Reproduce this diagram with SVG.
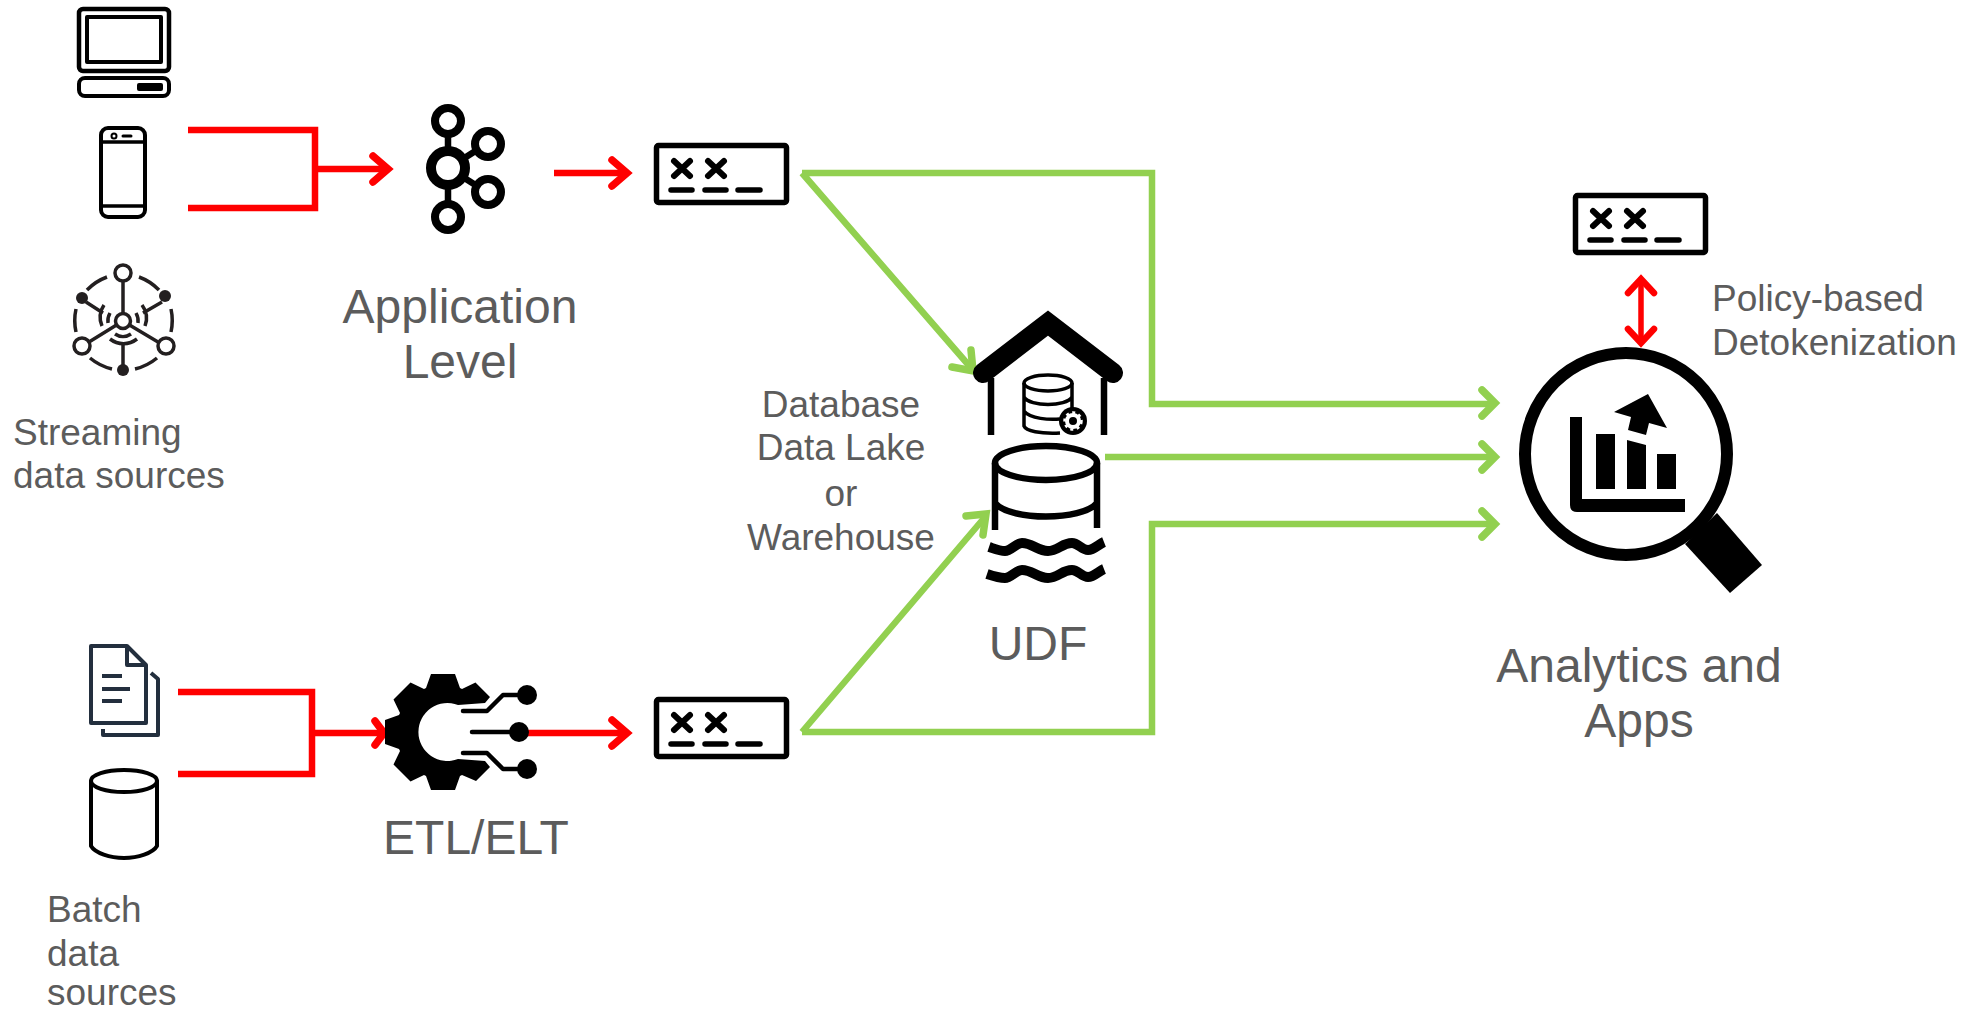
<svg xmlns="http://www.w3.org/2000/svg" xmlns:xlink="http://www.w3.org/1999/xlink" width="1969" height="1013" viewBox="0 0 1969 1013">
<style>
text{font-family:"Liberation Sans",Arial,sans-serif;fill:#5c5c5c}
.lg{font-size:48px}
.sm{font-size:37px}
.mid{text-anchor:middle}
.k{fill:none;stroke:#000;stroke-linejoin:round;stroke-linecap:round}
.s{fill:none;stroke:#231f20;stroke-width:3.5}
.r{fill:none;stroke:#f00;stroke-width:6.5}
.g{fill:none;stroke:#92d050;stroke-width:6.5}
.ah{fill:none;stroke-linecap:round;stroke-linejoin:miter;stroke-width:7.500}
</style>
<defs>
<g id="token">
<rect x="2.500" y="2.500" width="130" height="57" rx="2" fill="#fff" stroke="#000" stroke-width="5.500"/>
<path d="M20 18L36 33M36 18L20 33M54 18L70 33M70 18L54 33" fill="none" stroke="#000" stroke-width="6" stroke-linecap="round"/>
<path d="M17 47H38M51 47H72M84 47H106" fill="none" stroke="#000" stroke-width="5.500" stroke-linecap="round"/>
</g>
</defs>
<rect width="1969" height="1013" fill="#fff"/>

<g id="connectors">
<path class="r" d="M188 130H315V208H188M315 169H386"/>
<path class="r ah" d="M373 156L388 169L373 182"/>
<path class="r" d="M554 173H625"/>
<path class="r ah" d="M612 160L627 173L612 186"/>
<path class="r" d="M178 692H312V774H178M312 733H380"/>
<path class="r ah" d="M375 721L384 733L375 745"/>
<path class="r" d="M519 733H625"/>
<path class="r ah" d="M612 720L627 733L612 746"/>
<path class="r" style="stroke-width:5.500" d="M1641 280V342"/>
<path class="r ah" style="stroke-width:6.500" d="M1628 293L1641 279L1654 293M1628 329L1641 343L1654 329"/>
<path class="g" d="M802 173H1152V404H1492M802 173L972 369"/>
<path class="g" d="M1105 457H1492"/>
<path class="g" d="M802 732H1152V524H1492M802 732L985 517"/>
<path class="g ah" d="M1482 390L1495 403L1482 416M1482 444L1495 457L1482 470M1482 511L1495 524L1482 537"/>
<path class="g ah" d="M971 350L973 371L952 367M966 516L986 514L983 535"/>
</g>

<g id="laptop">
<rect x="79" y="9" width="90" height="62" rx="4" class="k" stroke-width="4.500"/>
<rect x="87" y="17" width="74" height="45" class="k" stroke-width="4"/>
<rect x="79" y="78" width="90" height="18" rx="6" class="k" stroke-width="4"/>
<rect x="137" y="83" width="26" height="8" rx="2" fill="#000"/>
</g>

<g id="phone">
<rect x="101" y="128" width="44" height="89" rx="7" class="k" stroke-width="4"/>
<path class="k" stroke-width="3.500" d="M101 142H145M101 206H145"/>
<circle cx="114" cy="136" r="2.500" class="k" stroke-width="2"/>
<path class="k" stroke-width="3" d="M123 136H131"/>
</g>

<g id="streaming">
<g class="s">
<circle cx="123" cy="273" r="8"/><circle cx="123" cy="321" r="7.500"/>
<circle cx="82" cy="346" r="8"/><circle cx="166" cy="346" r="8"/>
<path d="M123 281V314M116.500 325L89 342M129.500 325L158 342M123 345V366M103 313L86 302M143 313L162 302"/>
<path d="M107 277A54 54 0 0 0 87 290M139 277A54 54 0 0 1 159 290M76 309A54 54 0 0 0 76 332M171 309A54 54 0 0 1 171 332M90 358A54 54 0 0 0 112 369M157 358A54 54 0 0 1 135 369"/>
<path d="M102 326A22 22 0 0 1 104 305M145 326A22 22 0 0 0 142 305M108 323A16 16 0 0 1 110 313M138 323A16 16 0 0 0 136 313M110 339A22 22 0 0 0 137 339M115 334A14 14 0 0 0 131 334"/>
</g>
<circle cx="82" cy="298" r="6" fill="#231f20"/><circle cx="165" cy="296" r="6" fill="#231f20"/><circle cx="123" cy="370" r="6" fill="#231f20"/>
</g>

<g id="documents">
<path d="M91 646H127L146 665V723H91Z M127 646V665H146" fill="none" stroke="#232f3e" stroke-width="4" stroke-linejoin="round"/>
<path d="M151 673L158 679V735H103V729M102 676H122M102 689H130M102 701H122" fill="none" stroke="#232f3e" stroke-width="4" stroke-linejoin="round"/>
</g>

<g id="batch-db">
<ellipse cx="124" cy="781" rx="33" ry="11" class="k" stroke-width="4"/>
<path class="k" stroke-width="4" d="M91 781V846C95 853 110 858 124 858C138 858 153 853 157 846V781"/>
</g>

<g id="kafka">
<circle cx="448" cy="121" r="13" class="k" stroke-width="8"/>
<circle cx="448" cy="217" r="13" class="k" stroke-width="8"/>
<circle cx="448" cy="168" r="17" class="k" stroke-width="10"/>
<circle cx="488" cy="144" r="13" class="k" stroke-width="8"/>
<circle cx="488" cy="192" r="13" class="k" stroke-width="8"/>
<path class="k" stroke-width="6.500" d="M448 134V148M448 188V204M466 157L477 150M466 179L477 186"/>
</g>

<g id="etl">
<path fill="#000" d="M431 674H455L460 688L462 689L475.500 682.500L490 697L485 703L458 705A29 29 0 1 0 458 759L485 761L490 767L476 781L462 775L460 776L455 790H431L426 776L424 775L410.500 781.500L393.500 764.500L400 751L399 749L385 744V720L399 715L400 713L393.500 699.500L410.500 682.500L424 689L426 688Z"/>
<path class="k" stroke-width="4.500" d="M463 711H487L503 695H527M472 732H519M463 753H487L503 769H527"/>
<circle cx="527" cy="695" r="10" fill="#000"/><circle cx="519" cy="732" r="10" fill="#000"/><circle cx="527" cy="769" r="10" fill="#000"/>
</g>

<g id="token-1"><use xlink:href="#token" x="654" y="143"/></g>
<g id="token-2"><use xlink:href="#token" x="654" y="697"/></g>
<g id="token-3"><use xlink:href="#token" x="1573" y="193"/></g>

<g id="lakehouse">
<path fill="none" stroke="#000" stroke-width="20" stroke-linecap="round" stroke-linejoin="miter" d="M983 373L1048 323L1113 373"/>
<path fill="none" stroke="#000" stroke-width="6.500" d="M991 378V435M1104 378V435"/>
<g fill="none" stroke="#000" stroke-width="3.500">
<ellipse cx="1048" cy="383" rx="24" ry="8"/>
<path d="M1024 383V426C1026 431 1040 434 1060 433M1072 383V410M1024 397C1030 407 1066 407 1072 397M1024 411C1030 419 1050 420 1060 419"/>
</g>
<circle cx="1073" cy="421" r="14" fill="#000"/>
<circle cx="1073" cy="421" r="6" fill="none" stroke="#fff" stroke-width="4"/>
<circle cx="1073" cy="421" r="8.500" fill="none" stroke="#fff" stroke-width="2.500" stroke-dasharray="3 3.500"/>
<g fill="none" stroke="#000" stroke-width="6.500">
<ellipse cx="1046" cy="463" rx="51" ry="17"/>
<path d="M995 463V530M1097 463V528M995 503C1010 521 1082 521 1097 503"/>
</g>
<path fill="none" stroke="#000" stroke-width="10" d="M989 547C995 549 1000 551 1005 551C1011 551 1016 543 1022 543C1032 543 1038 551 1048 551C1058 551 1062 543 1072 543C1078 543 1082 550 1088 550C1094 550 1099 544 1104 542"/>
<path fill="none" stroke="#000" stroke-width="10" d="M987 574C993 576 1000 578 1005 578C1011 578 1016 570 1022 570C1032 570 1038 578 1048 578C1058 578 1062 570 1072 570C1078 570 1082 577 1088 577C1094 577 1099 571 1104 569"/>
</g>

<g id="analytics">
<circle cx="1626" cy="454" r="101" fill="none" stroke="#000" stroke-width="12"/>
<path fill="#000" d="M1717 513L1762 565L1730 593L1685 544Z"/>
<path fill="#000" d="M1570 417H1582V499H1685V512H1577Q1570 512 1570 505ZM1596 434H1615V489H1596ZM1627 440L1646 445V489H1627ZM1657 454H1676V489H1657ZM1648 394L1614 412L1631 417L1628 430L1646 435L1649 423L1667 428Z"/>
</g>

<g id="labels">
<text class="sm" x="13" y="445">Streaming</text>
<text class="sm" x="13" y="488">data sources</text>
<text class="lg mid" x="460" y="323">Application</text>
<text class="lg mid" x="460" y="378">Level</text>
<text class="sm mid" x="841" y="417">Database</text>
<text class="sm mid" x="841" y="460">Data Lake</text>
<text class="sm mid" x="841" y="506">or</text>
<text class="sm mid" x="841" y="550">Warehouse</text>
<text class="lg mid" x="1038" y="660">UDF</text>
<text class="lg mid" x="476" y="854">ETL/ELT</text>
<text class="sm" x="47" y="922">Batch</text>
<text class="sm" x="47" y="966">data</text>
<text class="sm" x="47" y="1005">sources</text>
<text class="sm" x="1712" y="311">Policy-based</text>
<text class="sm" x="1712" y="355">Detokenization</text>
<text class="lg mid" x="1639" y="682">Analytics and</text>
<text class="lg mid" x="1639" y="737">Apps</text>
</g>
</svg>
